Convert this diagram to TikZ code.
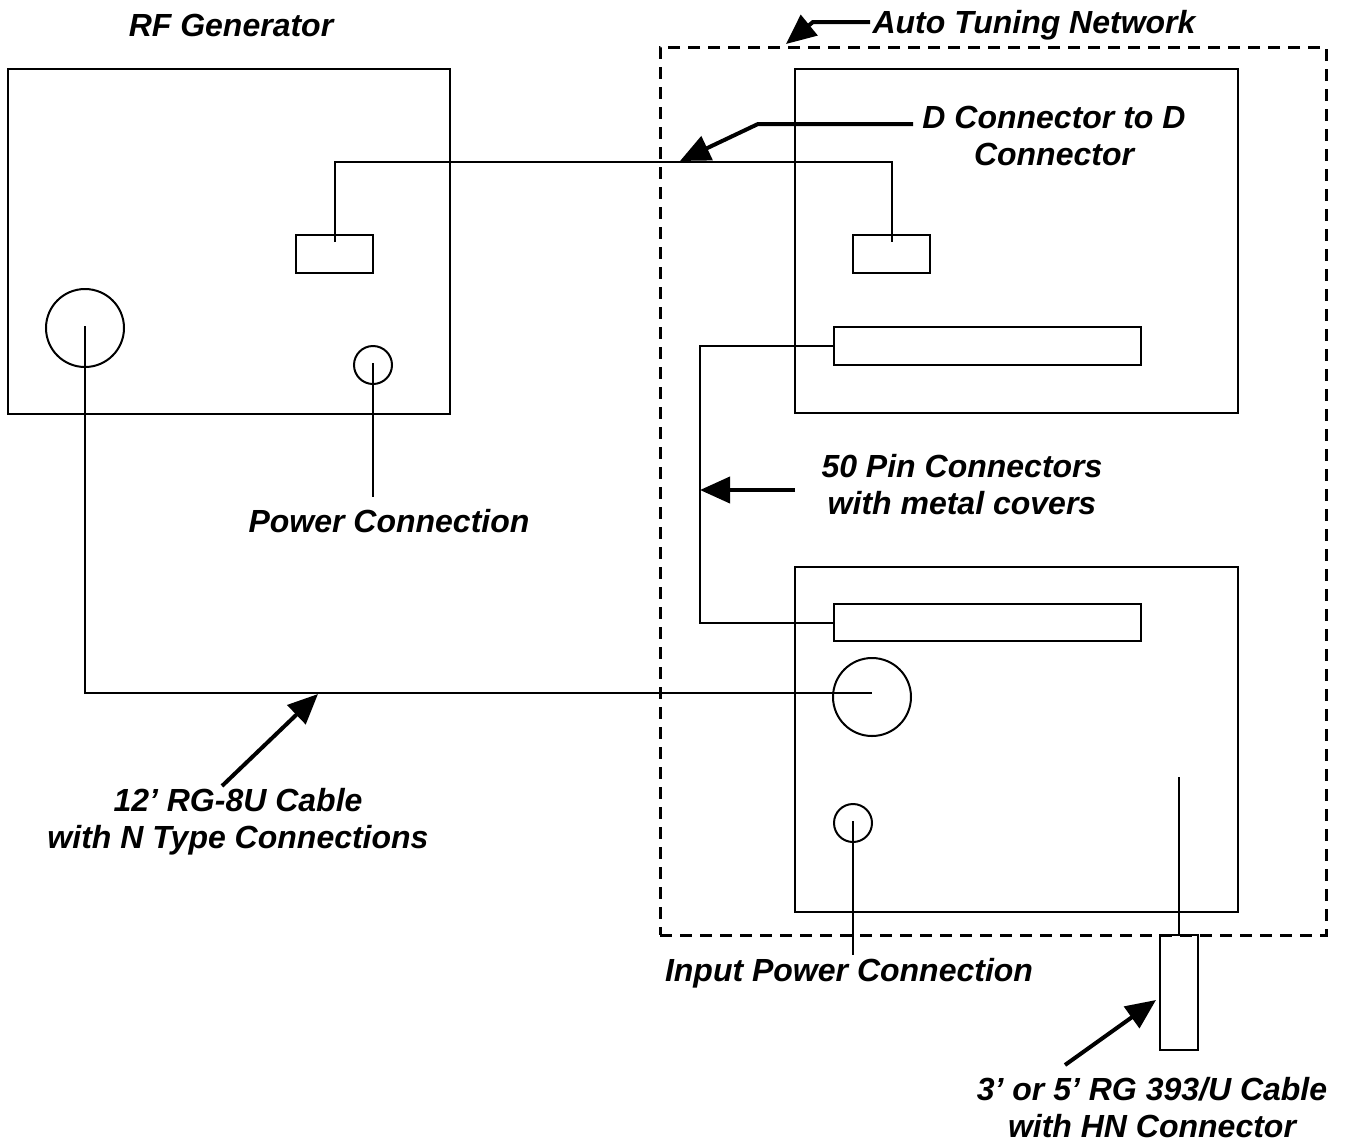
\documentclass[tikz,border=0pt]{standalone}
\usepackage{fontspec}
\setmainfont{Liberation Sans}
\usetikzlibrary{arrows.meta,calc}
\begin{document}
\begin{tikzpicture}[x=1pt,y=-1pt,
  lab/.style={font=\bfseries\itshape\fontsize{32}{37}\selectfont, align=center, inner sep=0pt},
  box/.style={draw, line width=2pt, inner sep=0pt, rectangle},
  jack/.style={draw, line width=2pt, inner sep=0pt, circle},
  wire/.style={line width=2pt},
  pointer/.style={line width=4pt, -{Triangle[length=30pt,width=26pt]}},
  enclosure/.style={draw, line width=3pt, dash pattern=on 12pt off 8pt, inner sep=0pt, rectangle}]
\useasboundingbox (0,0) rectangle (1347,1144);
\fill[white] (0,0) rectangle (1347,1144);

% RF generator
\node[box, minimum width=442pt, minimum height=345pt] (rf) at (229,241.5) {};
\node[box, minimum width=77pt, minimum height=38pt] (rfd) at (334.5,254) {};
\node[jack, minimum size=78pt] (rfbig) at (85,328) {};
\node[jack, minimum size=38pt] (rfsmall) at (373,365) {};

% Auto tuning network
\node[enclosure, minimum width=666pt, minimum height=888pt] (atn) at (993,491) {};
\node[box, minimum width=443pt, minimum height=344pt] (up) at (1016.5,241) {};
\node[box, minimum width=77pt, minimum height=38pt] (atnd) at (891.5,254) {};
\node[box, minimum width=307pt, minimum height=38pt] (pin1) at (987.5,346) {};
\node[box, minimum width=443pt, minimum height=345pt] (low) at (1016.5,739.5) {};
\node[box, minimum width=307pt, minimum height=37pt] (pin2) at (987.5,622.5) {};
\node[jack, minimum size=78pt] (lowbig) at (872,697) {};
\node[jack, minimum size=38pt] (lowsmall) at (853,823) {};
\node[box, minimum width=38pt, minimum height=115pt] (hn) at (1179,992.5) {};

% coordinates
\coordinate (dtop) at (600,162);
\coordinate (pinx) at (700,490);
\coordinate (pwrend) at (373,497);
\coordinate (inend) at (853,955);
\coordinate (hntop) at (1179,777);

% wires
\draw[wire] ([yshift=12pt]rfd.center) |- (dtop) -| ([yshift=12pt]atnd.center);
\draw[wire] (pin1.west) -| (pinx) |- (pin2.west);
\draw[wire] ([yshift=2pt]rfbig.center) |- ([yshift=4pt]lowbig.center);
\draw[wire] ([yshift=2pt]rfsmall.center) -- (pwrend);
\draw[wire] ([yshift=2pt]lowsmall.center) -- (inend);
\draw[wire] (hntop) -- (hn.north);

% labels
\node[lab] (lrf) at (231,25) {RF Generator};
\node[lab] (latn) at (1034,25) {Auto Tuning Network};
\node[lab] (ld) at (1054,136) {D Connector to D\\Connector};
\node[lab] (lpin) at (962,485) {50 Pin Connectors\\with metal covers};
\node[lab] (lpwr) at (389,521) {Power Connection};
\node[lab] (lcable) at (238,822) {12’ RG-8U Cable\\with N Type Connections};
\node[lab] (linp) at (849,973) {Input Power Connection};
\node[lab] (lhn) at (1152,1108) {3’ or 5’ RG 393/U Cable\\with HN Connector};

% pointer arrows
\coordinate (atnfrom) at (870,22);
\coordinate (atnbend) at (813,22);
\coordinate (atntip) at (786,44);
\draw[pointer] (atnfrom) -- (atnbend) -- (atntip);

\coordinate (dfrom) at (913,124);
\coordinate (dbend) at (758,124);
\coordinate (dtip) at (680,161);
\draw[pointer] (dfrom) -- (dbend) -- (dtip);

\coordinate (pinfrom) at (795,490);
\draw[pointer] (pinfrom) -- (pinx);

\coordinate (cfrom) at (222,786);
\coordinate (ctip) at (318,694);
\draw[pointer] (cfrom) -- (ctip);

\coordinate (hfrom) at (1065,1065);
\coordinate (htip) at (1156,1000);
\draw[pointer] (hfrom) -- (htip);
\end{tikzpicture}
\end{document}
